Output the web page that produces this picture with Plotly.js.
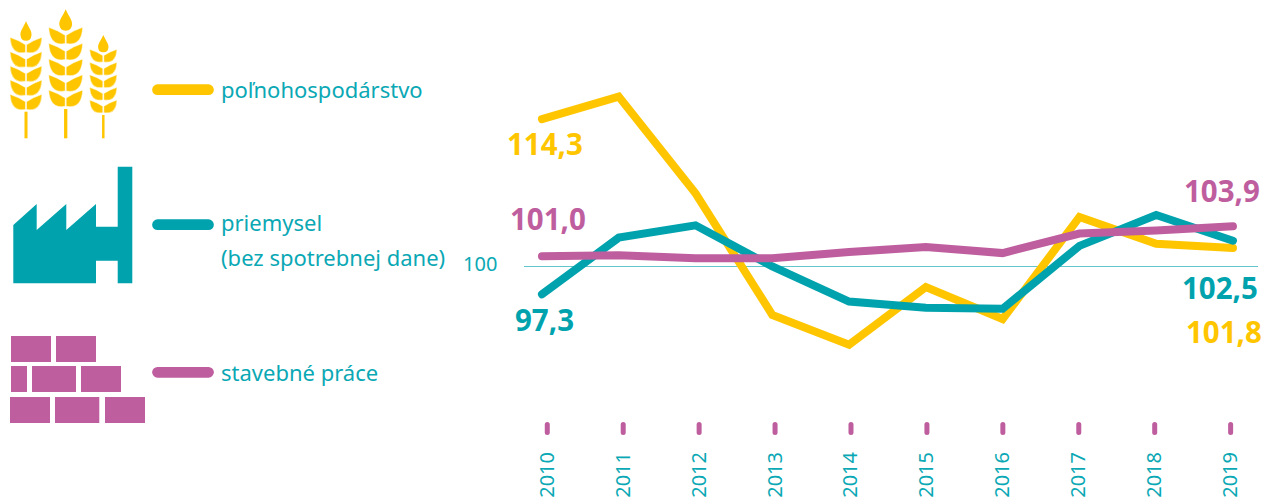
<!DOCTYPE html>
<html><head><meta charset="utf-8">
<script src="https://cdn.plot.ly/plotly-3.0.1.min.js"></script>
<style>
html,body{margin:0;padding:0;background:#fff;overflow:hidden}
#chart{width:1264px;height:497px}
.scatterlayer path{stroke-linecap:round !important;stroke-linejoin:miter !important;stroke-miterlimit:6 !important}
.layer-above path{stroke-linecap:round}
</style></head><body><div id="chart"></div>
<script>
const years=[2010,2011,2012,2013,2014,2015,2016,2017,2018,2019];
const polnohospodarstvo=[114.3,116.5,107.1,95.3,92.4,98.0,94.9,104.8,102.2,101.8];
const priemysel=[97.3,102.8,104.0,100.0,96.6,96.0,95.9,102.0,105.0,102.5];
const stavebne=[101.0,101.1,100.8,100.8,101.4,101.9,101.3,103.2,103.5,103.9];
const YELLOW='#FFC600',TEAL='#00A3AD',MAGENTA='#BF5E9E',TEXT='#0AA8B4';
const W=1264,H=497;
const fx=p=>p/W, fy=p=>1-p/H;
const n=v=>v.toFixed(5);
const pt=(x,y)=>n(fx(x))+','+n(fy(y));
function poly(points,fill){return {type:'path',xref:'paper',yref:'paper',layer:'above',fillcolor:fill,line:{width:0},
  path:'M'+points.map(p=>pt(p[0],p[1])).join(' L')+' Z'};}
function rect(x0,y0,x1,y1,fill){return poly([[x0,y0],[x1,y0],[x1,y1],[x0,y1]],fill);}
function leaf(cx,y0,w,h,s){const g=0.5;
  return {type:'path',xref:'paper',yref:'paper',layer:'above',fillcolor:YELLOW,line:{color:'#fff',width:0.5},
   path:'M'+pt(cx+s*w,y0)+' Q'+pt(cx+s*0.45*w,y0+0.2*h)+' '+pt(cx+s*g,y0+0.5*h)+' L'+pt(cx+s*g,y0+1.02*h)+
        ' Q'+pt(cx+s*0.95*w,y0+1.2*h)+' '+pt(cx+s*w,y0)+' Z'};}
function drop(cx,top,bot,w){const h=bot-top;
  return {type:'path',xref:'paper',yref:'paper',layer:'above',fillcolor:YELLOW,line:{width:0},
   path:'M'+pt(cx,top)+' C'+pt(cx+0.2*w,top+0.3*h)+' '+pt(cx+0.55*w,top+0.5*h)+' '+pt(cx+0.5*w,top+0.72*h)+' Q'+pt(cx+0.45*w,bot)+' '+pt(cx,bot)+
        ' Q'+pt(cx-0.45*w,bot)+' '+pt(cx-0.5*w,top+0.72*h)+' C'+pt(cx-0.55*w,top+0.5*h)+' '+pt(cx-0.2*w,top+0.3*h)+' '+pt(cx,top)+' Z'};}
function stalk(cx,top,dropBot,dropW,rows,w,h,stemTop,stemW){
  const out=[rect(cx-stemW/2,stemTop,cx+stemW/2,138.3,YELLOW)];
  rows.slice().reverse().forEach(y=>{out.push(leaf(cx,y,w,h,-1));out.push(leaf(cx,y,w,h,1));});
  out.push(drop(cx,top,dropBot,dropW));
  return out;}
const wheat=[].concat(
  stalk(26,21,40.7,11,[37.3,51.7,66,80,94.3],16,15,111.7,3),
  stalk(65.7,9.3,30.7,12.7,[27.3,43.3,59,74.7,90],17,16,109,3.3),
  stalk(103.3,35,52.3,10.3,[49.3,62.3,74.7,87.3,100],13.7,12.5,115,2.5));
const factory=[poly([[13.3,225],[36.7,204],[36.7,230],[66.3,204],[66.3,230],[96,204],[96,226.7],[117.7,226.7],[117.7,166.7],[132.3,166.7],[132.3,283.3],[117.7,283.3],[117.7,260.7],[96,260.7],[96,283.3],[13.3,283.3]],TEAL)];
const bricks=[[11,336,51,362],[56,336,96,362],[11,366,27,392],[32,366,76,392],[81,366,121,392],[10,397,50,423],[55,397,99.3,423],[105,397,145,423]].map(b=>rect(b[0],b[1],b[2],b[3],MAGENTA));
function key(y,c){return {type:'line',xref:'paper',yref:'paper',layer:'above',x0:fx(157.5),x1:fx(208.5),y0:fy(y),y1:fy(y),line:{color:c,width:10.7}};}
const keys=[key(89.7,YELLOW),key(224.7,TEAL),key(372.3,MAGENTA)];

function series(y,c,name){return {x:years,y:y,name:name,type:'scatter',mode:'lines',line:{color:c,width:8},hoverinfo:'skip'};}
const tickX=[],tickY=[];
years.forEach(yr=>{tickX.push(yr,yr,null);tickY.push(0,1,null);});
const traces=[
 series(polnohospodarstvo,YELLOW,'poľnohospodárstvo'),
 series(priemysel,TEAL,'priemysel'),
 series(stavebne,MAGENTA,'stavebné práce'),
 {x:tickX,y:tickY,xaxis:'x2',yaxis:'y2',type:'scatter',mode:'lines',line:{color:MAGENTA,width:5},hoverinfo:'skip'}
];
const FONT='"Noto Sans", sans-serif';
function val(i,arr,c,txt,xs,ys){return {x:years[i],y:arr[i],xref:'x',yref:'y',text:'<b>'+txt+'</b>',showarrow:false,xanchor:'center',yanchor:'middle',
  xshift:xs,yshift:ys,font:{family:FONT,size:29.5,color:c}};}
function lab(t,y){return {xref:'paper',yref:'paper',x:fx(219),y:fy(y),text:t,showarrow:false,xanchor:'left',yanchor:'middle',font:{family:FONT,size:22,color:TEXT}};}
const annotations=[
 val(0,polnohospodarstvo,YELLOW,'114,3',3,-24),
 val(0,stavebne,MAGENTA,'101,0',6,38),
 val(0,priemysel,TEAL,'97,3',3,-25),
 val(9,stavebne,MAGENTA,'103,9',-11,36),
 val(9,priemysel,TEAL,'102,5',-13,-47),
 val(9,polnohospodarstvo,YELLOW,'101,8',-9,-84),
 lab('poľnohospodárstvo',88.5),lab('priemysel',222),lab('(bez spotrebnej dane)',256.5),lab('stavebné práce',372),
 {xref:'paper',yref:'y',x:fx(499),y:100,yshift:3,text:'100',showarrow:false,xanchor:'right',yanchor:'middle',font:{family:FONT,size:20,color:TEXT}}
];
const layout={width:W,height:H,margin:{l:0,r:0,t:0,b:0},paper_bgcolor:'#fff',plot_bgcolor:'rgba(0,0,0,0)',showlegend:false,
 xaxis:{domain:[524/W,1258/W],range:[2009.766,2019.326],visible:false,fixedrange:true},
 yaxis:{domain:[1-360/H,1-80/H],range:[90.922,118.107],tickvals:[100],showticklabels:false,showgrid:true,gridcolor:'#62C5CC',gridwidth:1,zeroline:false,showline:false,ticks:'',fixedrange:true},
 xaxis2:{domain:[524.5/W,1261/W],range:[2009.7,2019.4],anchor:'y2',tickmode:'array',tickvals:years,ticktext:years.map(String),tickangle:-90,ticks:'',
   showgrid:false,zeroline:false,showline:false,ticklabelstandoff:10,tickfont:{family:FONT,size:20,color:TEXT},fixedrange:true},
 yaxis2:{domain:[1-437/H,1-420/H],range:[-0.5625,1.5625],anchor:'x2',visible:false,fixedrange:true},
 shapes:[].concat(wheat,factory,bricks,keys),
 annotations:annotations};
Plotly.newPlot('chart',traces,layout,{displayModeBar:false,staticPlot:true});
</script></body></html>
